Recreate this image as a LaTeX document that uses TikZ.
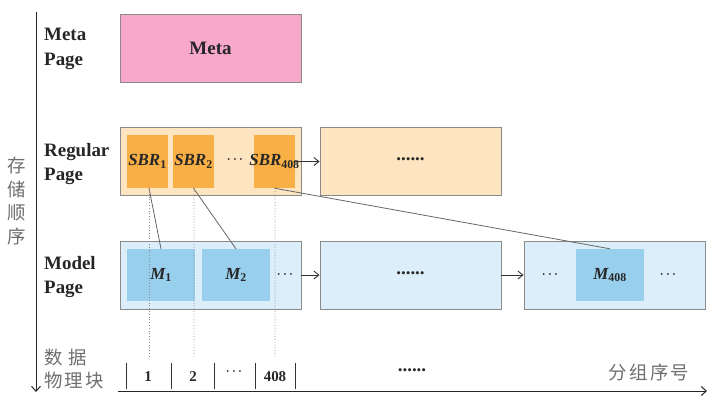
\documentclass[tikz,border=0pt]{standalone}
\usepackage{fontspec}
\setmainfont{Liberation Serif}
\newfontfamily\cjk[LetterSpace=12]{Noto Sans CJK SC}
\usetikzlibrary{arrows.meta}
\definecolor{pinkfill}{HTML}{F7A8CB}
\definecolor{regfill}{HTML}{FDE5C2}
\definecolor{sbrfill}{HTML}{F8AF45}
\definecolor{modfill}{HTML}{DCEEFA}
\definecolor{mfill}{HTML}{98CFEC}
\definecolor{edge}{HTML}{8A8A8A}
\definecolor{cjkgray}{HTML}{6E6E6E}
\tikzset{
  page/.style={draw=edge, line width=0.9bp, minimum width=181bp, minimum height=68bp, inner sep=0pt},
  inner/.style={draw=none, minimum height=53bp, inner sep=0pt},
  lbl/.style={align=left, anchor=west, font=\fontsize{19}{25}\selectfont\bfseries, text=black!85, inner sep=0pt},
  cn/.style={font=\fontsize{18.5}{24}\selectfont\cjk, text=cjkgray, inner sep=0pt},
  conn/.style={draw=black!60, line width=0.8bp},
  dotl/.style={draw=edge, line width=0.8bp, dotted},
  arr/.style={draw=black!80, line width=0.9bp, -{Straight Barb[length=5bp,width=8bp]}},
  txt/.style={font=\fontsize{19}{20}\selectfont\bfseries, text=black!85, inner sep=0pt},
  itx/.style={font=\fontsize{17}{20}\selectfont\bfseries\itshape, text=black!85, inner sep=0pt},
  small/.style={font=\fontsize{15}{16}\selectfont\bfseries, text=black!85, inner sep=0pt},
  dts/.style={font=\fontsize{12}{14}\selectfont\boldmath, text=black!85, inner sep=0pt}
}
\begin{document}
\begin{tikzpicture}[x=1bp,y=-1bp]
\useasboundingbox (0,0) rectangle (728,405);
% axes
\coordinate (vtop) at (36,12);
\coordinate (vbot) at (36,392);
\coordinate (hl) at (118,391);
\coordinate (hr) at (707,391);
\draw[line width=1bp, black!85, -{Straight Barb[length=5bp,width=9bp]}] (vtop) -- (vbot);
\draw[line width=1bp, black!85, -{Straight Barb[length=5bp,width=9bp]}] (hl) -- (hr);
% left labels
\node[cn, align=center] (order) at (17,201) {存\\[0pt]储\\[0pt]顺\\[0pt]序};
\node[lbl] (lmeta) at (44,49) {Meta\\Page};
\node[lbl] (lreg) at (44,164) {Regular\\Page};
\node[lbl] (lmod) at (44,277) {Model\\Page};
\node[cn, align=left, anchor=west] (lblk) at (44,369) {数 据\\物理块};
% meta
\node[page, fill=pinkfill, txt] (meta) at (210.5,48) {Meta};
% regular pages
\node[page, fill=regfill] (reg1) at (210.5,161) {};
\node[page, fill=regfill, txt] (reg2) at (410.5,161) {\raisebox{3bp}{......}};
\node[inner, fill=sbrfill, minimum width=41bp, itx] (sbr1) at (147.5,161.5) {\makebox[41bp]{SBR\textsubscript{\upshape 1}}};
\node[inner, fill=sbrfill, minimum width=41bp, itx] (sbr2) at (193.5,161.5) {\makebox[41bp]{SBR\textsubscript{\upshape 2}}};
\node[dts] (rdots) at (235,160) {$\cdots$};
\node[inner, fill=sbrfill, minimum width=41bp, itx] (sbr3) at (274.5,161.5) {\makebox[41bp]{SBR\textsubscript{\upshape 408}}};
\draw[arr] (sbr3.east) -- (reg2.west |- sbr3.east);
% model pages
\node[page, fill=modfill] (mod1) at (210.5,275) {};
\node[page, fill=modfill, txt] (mod2) at (410.5,275) {\raisebox{3bp}{......}};
\node[page, fill=modfill] (mod3) at (614.5,275) {};
\node[inner, fill=mfill, minimum width=68bp, minimum height=52bp, itx] (m1) at (161,275) {M\textsubscript{\upshape 1}};
\node[inner, fill=mfill, minimum width=68bp, minimum height=52bp, itx] (m2) at (236,275) {M\textsubscript{\upshape 2}};
\node[inner, fill=mfill, minimum width=68bp, minimum height=52bp, itx] (m3) at (610,275) {M\textsubscript{\upshape 408}};
\node[dts] (mdots1) at (285,275) {$\cdots$};
\node[dts] (mdots2) at (550,275) {$\cdots$};
\node[dts] (mdots3) at (668,275) {$\cdots$};
\draw[arr] (mod1.east) -- (mod2.west);
\draw[arr] (mod2.east) -- (mod3.west);
% connectors
\draw[conn] ([xshift=1.5bp]sbr1.south) -- (m1.north);
\draw[conn] (sbr2.south) -- (m2.north);
\draw[conn] (sbr3.south) -- (m3.north);
% block cells
\node[small] (c1) at (148,377) {1};
\node[small] (c2) at (193,377) {2};
\node[dts] (c3) at (234,372) {$\cdots$};
\node[small] (c4) at (275,377) {408};
\node[txt] (cdots) at (412,370) {......};
\node[cn] (grp) at (649,372) {分组序号};
\foreach \x/\n in {126/t1,171/t2,214/t3,255/t4,295/t5} {
  \coordinate (\n a) at (\x,363);
  \coordinate (\n b) at (\x,389);
  \draw[line width=1bp, black!80] (\n a) -- (\n b);
}
\coordinate (d1) at (149,357);
\coordinate (d2) at (194,357);
\coordinate (d3) at (275,357);
\draw[dotl] ([xshift=1.5bp]sbr1.south) -- (d1);
\draw[dotl] ([xshift=0.5bp]sbr2.south) -- (d2);
\draw[dotl] ([xshift=0.5bp]sbr3.south) -- (d3);
\end{tikzpicture}
\end{document}
